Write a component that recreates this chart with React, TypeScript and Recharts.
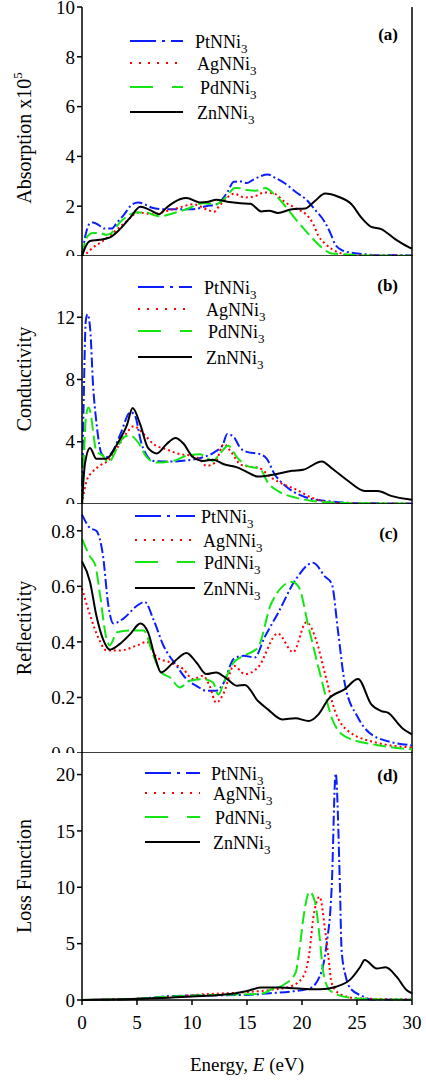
import { LineChart, Line, XAxis, YAxis, ReferenceLine } from 'recharts';

type Pt = [number, number];

const FONT = '"Liberation Serif", "Times New Roman", serif';

const energyTicks = [0, 5, 10, 15, 20, 25, 30];
const compounds = ['PtNNi', 'AgNNi', 'PdNNi', 'ZnNNi'];

// (a) absorption x10^5
const absPt: Pt[] = [[0, 0], [0.3, 0.8], [0.7, 1.3], [1.0, 1.35], [1.5, 1.25], [2.0, 1.1], [2.7, 1.1], [3.2, 1.35], [3.8, 1.65], [4.5, 2.05], [5.1, 2.15], [5.6, 2.1], [6.3, 1.95], [7.4, 1.88], [8.9, 1.88], [10.1, 1.88], [11.3, 2.0], [12.4, 2.1], [12.8, 2.3], [13.2, 2.55], [13.8, 2.98], [14.3, 3.0], [15.0, 2.93], [15.5, 3.05], [16.2, 3.2], [16.9, 3.27], [17.5, 3.15], [18.5, 2.9], [19.5, 2.55], [20.3, 2.3], [21.2, 1.85], [22.1, 1.34], [22.6, 0.9], [23.0, 0.48], [23.6, 0.24], [24.5, 0.13], [25.5, 0.08], [27, 0.03], [28, 0.04], [29, 0.03], [30, 0.02]];
const absAg: Pt[] = [[0, 0], [0.4, 0.1], [1.0, 0.34], [1.9, 0.6], [2.85, 0.94], [4.1, 1.41], [5.1, 1.75], [6.5, 1.68], [7.7, 1.81], [8.9, 1.95], [10.1, 2.08], [11.3, 1.88], [12.0, 1.78], [12.5, 2.02], [13.2, 2.35], [13.8, 2.5], [14.8, 2.35], [15.7, 2.4], [16.6, 2.55], [17.5, 2.5], [18.5, 2.15], [19.5, 1.9], [20.3, 1.7], [21.0, 1.3], [21.5, 0.8], [22.1, 0.5], [22.7, 0.28], [23.6, 0.1], [24.5, 0.04], [26, 0.02], [28, 0.02], [30, 0.01]];
const absPd: Pt[] = [[0, 0], [0.3, 0.6], [0.7, 0.88], [1.0, 0.92], [1.6, 0.92], [2.2, 0.85], [2.6, 0.9], [3.45, 1.35], [4.2, 1.62], [4.8, 1.75], [5.9, 1.75], [6.5, 1.65], [7.1, 1.59], [8.0, 1.68], [9.5, 1.88], [11.0, 2.12], [12.2, 2.08], [12.7, 2.2], [13.2, 2.42], [13.9, 2.73], [14.4, 2.72], [15.0, 2.65], [15.8, 2.62], [16.7, 2.73], [17.3, 2.55], [18.2, 2.15], [19.4, 1.49], [20.6, 0.88], [21.8, 0.34], [22.7, 0.1], [24.5, 0.05], [26, 0.02], [30, 0.01]];
const absZn: Pt[] = [[0, 0], [0.3, 0.35], [0.73, 0.6], [1.6, 0.65], [2.55, 0.75], [3.45, 1.08], [4.4, 1.55], [5.3, 1.98], [6.2, 1.84], [7.0, 1.68], [7.7, 1.95], [8.9, 2.28], [9.5, 2.33], [10.7, 2.15], [11.5, 2.18], [12.2, 2.26], [13.2, 2.18], [14.4, 2.12], [15.3, 2.1], [16.3, 1.79], [17.0, 1.82], [17.8, 1.73], [19.1, 1.88], [20.3, 1.91], [21.2, 2.22], [22.1, 2.51], [23.3, 2.38], [24.5, 2.08], [25.4, 1.54], [26.3, 1.17], [27.2, 1.08], [28.5, 0.67], [29.7, 0.36], [30, 0.3]];

// (b) conductivity
const condPt: Pt[] = [[0, 0], [0.15, 6.5], [0.35, 11.8], [0.5, 12.2], [0.75, 11.2], [1.0, 7.7], [1.3, 5.3], [1.8, 3.2], [2.2, 3.0], [2.8, 3.4], [3.5, 4.5], [4.4, 5.9], [4.8, 5.7], [5.4, 3.9], [6.0, 3.0], [6.5, 2.77], [8.0, 2.73], [9.5, 2.8], [11.0, 3.0], [12.2, 3.4], [12.8, 3.8], [13.2, 4.5], [13.8, 4.3], [14.4, 3.6], [15.0, 3.35], [16.2, 3.2], [16.8, 2.9], [17.5, 1.93], [18.5, 1.16], [20.0, 0.52], [21.0, 0.3], [22.1, 0.2], [23.9, 0.09], [26, 0.05], [30, 0.03]];
const condAg: Pt[] = [[0, 0], [0.42, 1.5], [1.0, 2.1], [1.6, 2.45], [2.55, 2.9], [3.2, 3.6], [4.1, 4.6], [4.7, 5.0], [5.6, 4.5], [6.5, 3.85], [7.7, 3.5], [8.9, 3.2], [10.1, 3.1], [10.8, 2.8], [11.3, 2.45], [12.1, 2.66], [12.9, 3.85], [13.5, 3.4], [14.4, 2.55], [15.2, 2.4], [16.0, 2.34], [17.2, 1.7], [18.2, 1.3], [19.4, 0.95], [20.9, 0.4], [22.1, 0.15], [23.9, 0.05], [30, 0.02]];
const condPd: Pt[] = [[0, 0], [0.12, 2.1], [0.35, 5.5], [0.58, 6.2], [0.8, 5.8], [1.0, 4.7], [1.3, 3.4], [1.9, 3.1], [2.4, 2.66], [3.2, 3.6], [3.8, 4.3], [4.4, 4.4], [5.1, 3.96], [5.9, 3.0], [6.8, 2.66], [8.3, 2.77], [9.5, 3.1], [10.7, 3.2], [11.9, 2.77], [12.5, 3.2], [13.3, 3.74], [14.1, 3.0], [15.0, 2.45], [16.2, 2.24], [16.9, 1.37], [17.8, 0.84], [19.4, 0.41], [20.9, 0.2], [22.7, 0.1], [25, 0.05], [30, 0.03]];
const condZn: Pt[] = [[0, 0], [0.27, 2.6], [0.73, 3.6], [1.3, 2.9], [2.2, 2.9], [3.2, 3.86], [4.1, 5.1], [4.6, 6.17], [5.3, 5.1], [6.0, 3.6], [6.8, 3.25], [7.7, 3.86], [8.5, 4.24], [9.2, 3.9], [10.1, 3.0], [11.0, 2.77], [11.9, 2.85], [12.9, 2.55], [14.1, 2.35], [14.8, 2.13], [16.0, 1.76], [17.5, 1.9], [19.1, 2.13], [20.1, 2.2], [21.8, 2.73], [22.7, 2.3], [24.2, 1.48], [25.7, 0.84], [26.9, 0.84], [28.1, 0.52], [29.7, 0.3], [30, 0.28]];

// (c) reflectivity
const refPt: Pt[] = [[0, 0.858], [0.73, 0.81], [1.3, 0.8], [1.9, 0.713], [2.4, 0.53], [2.85, 0.466], [3.76, 0.484], [5.0, 0.53], [5.7, 0.544], [6.5, 0.48], [7.4, 0.387], [8.6, 0.314], [9.5, 0.266], [10.4, 0.242], [11.3, 0.224], [12.2, 0.224], [12.9, 0.254], [13.8, 0.339], [14.7, 0.35], [15.7, 0.344], [16.6, 0.417], [17.8, 0.502], [19.4, 0.623], [21.0, 0.685], [22.1, 0.635], [22.7, 0.61], [23.3, 0.43], [23.9, 0.248], [25.1, 0.127], [26.9, 0.054], [30, 0.028]];
const refAg: Pt[] = [[0, 0.593], [0.73, 0.496], [1.6, 0.405], [2.2, 0.369], [3.45, 0.369], [5.0, 0.387], [5.9, 0.4], [6.8, 0.344], [8.0, 0.326], [9.2, 0.302], [10.1, 0.266], [11.0, 0.278], [11.6, 0.242], [12.2, 0.181], [12.9, 0.217], [13.8, 0.314], [14.8, 0.284], [16.0, 0.308], [17.8, 0.43], [19.2, 0.363], [20.4, 0.471], [21.3, 0.405], [22.1, 0.284], [23.0, 0.151], [24.2, 0.079], [26.9, 0.036], [30, 0.02]];
const refPd: Pt[] = [[0, 0.77], [0.73, 0.707], [1.2, 0.677], [1.6, 0.58], [2.2, 0.417], [2.5, 0.387], [3.2, 0.435], [4.4, 0.441], [5.6, 0.441], [6.5, 0.35], [7.2, 0.29], [8.0, 0.272], [8.9, 0.236], [9.8, 0.26], [11.0, 0.266], [11.9, 0.254], [12.4, 0.21], [12.9, 0.254], [13.8, 0.326], [14.7, 0.35], [16.0, 0.38], [17.2, 0.538], [19.1, 0.616], [19.7, 0.598], [20.6, 0.453], [21.8, 0.26], [22.7, 0.127], [23.9, 0.06], [26.9, 0.028], [30, 0.013]];
const refZn: Pt[] = [[0, 0.689], [0.73, 0.616], [1.3, 0.496], [1.9, 0.411], [2.55, 0.372], [3.45, 0.393], [4.4, 0.429], [5.3, 0.466], [6.0, 0.435], [6.6, 0.35], [7.2, 0.29], [8.3, 0.326], [9.5, 0.36], [10.4, 0.326], [11.3, 0.284], [12.2, 0.29], [13.2, 0.266], [14.1, 0.242], [14.8, 0.245], [16.0, 0.187], [16.9, 0.157], [18.2, 0.121], [19.4, 0.125], [20.6, 0.115], [21.5, 0.139], [22.4, 0.194], [23.9, 0.23], [25.1, 0.266], [26.3, 0.175], [27.2, 0.151], [27.8, 0.145], [29.1, 0.09], [30, 0.067]];

// (d) loss function
const lossPt: Pt[] = [[0, 0], [5, 0.1], [8, 0.35], [10, 0.4], [15, 0.45], [17.1, 0.6], [18.9, 0.74], [20.7, 1.03], [21.6, 2.07], [22.2, 4.7], [22.7, 10], [23.06, 20.1], [23.45, 10], [23.6, 4.4], [24.0, 2.0], [24.4, 1.03], [25.6, 0.3], [26.2, 0.05], [30, 0.02]];
const lossAg: Pt[] = [[0, 0], [5, 0.1], [7, 0.2], [11, 0.5], [15, 0.7], [17.1, 0.89], [18.9, 1.18], [20.1, 2.07], [20.7, 4.4], [21.0, 7.1], [21.6, 9.16], [22.1, 6.2], [22.4, 3.84], [22.7, 1.48], [23.5, 0.5], [25, 0.15], [30, 0.05]];
const lossPd: Pt[] = [[0, 0], [5, 0.1], [7, 0.25], [8, 0.3], [12, 0.45], [15, 0.5], [16.5, 0.6], [17.1, 0.89], [18.3, 1.33], [19.4, 2.37], [19.8, 4.7], [20.1, 7.1], [20.7, 9.6], [21.2, 8.6], [21.6, 5.6], [21.9, 2.66], [22.5, 0.89], [23.8, 0.3], [25.6, 0.1], [30, 0.03]];
const lossZn: Pt[] = [[0, 0], [5, 0.1], [10, 0.3], [14, 0.6], [15, 0.8], [16.3, 1.1], [18, 1.1], [20, 1.0], [21.6, 0.95], [23.1, 1.18], [24.4, 1.83], [25.3, 2.95], [25.7, 3.55], [26.8, 2.8], [27.6, 2.9], [28.6, 2.07], [29.5, 0.89], [30, 0.6]];

const STYLES = [
  { color: '#0a1eff', dash: '10 3 2 3', legendDash: '26 6 3 6' },
  { color: '#ff0000', dash: '2 3', legendDash: '2 7' },
  { color: '#14e614', dash: '13 5', legendDash: '23 19' },
  { color: '#000000', dash: undefined, legendDash: undefined },
];

const toRows = (pts: Pt[]) => pts.map(([x, y]) => ({ x, y }));

interface PanelProps {
  top: number;
  height: number;
  series: Pt[][];
  domain: [number, number];
  ticks: number[];
  fmt?: (v: number) => string;
  last?: boolean;
}

function Panel({ top, height, series, domain, ticks, fmt, last }: PanelProps) {
  const tickStyle = { fontFamily: FONT, fontSize: 19, fill: '#000' };
  return (
    <div style={{ position: 'absolute', left: 0, top }}>
      <LineChart
        width={426}
        height={height}
        margin={{ top: 7, right: 14, bottom: last ? 40 : 0, left: 22 }}
      >
        {last ? (
          <XAxis
            type="number"
            dataKey="x"
            domain={[0, 30]}
            ticks={energyTicks}
            interval={0}
            height={40}
            tickSize={5}
            tickMargin={11}
            tick={tickStyle}
            axisLine={{ stroke: '#000', strokeWidth: 1.5 }}
            tickLine={{ stroke: '#000', strokeWidth: 1.5 }}
          />
        ) : (
          <XAxis
            type="number"
            dataKey="x"
            domain={[0, 30]}
            ticks={energyTicks}
            interval={0}
            height={1}
            mirror
            tick={false}
            tickSize={8}
            axisLine={{ stroke: '#000', strokeWidth: 1.5 }}
            tickLine={{ stroke: '#000', strokeWidth: 1.5 }}
          />
        )}
        <YAxis
          type="number"
          domain={domain}
          ticks={ticks}
          interval={0}
          width={60}
          tickSize={5}
          tickMargin={2}
          tick={tickStyle}
          tickFormatter={fmt}
          axisLine={{ stroke: '#000', strokeWidth: 1.5 }}
          tickLine={{ stroke: '#000', strokeWidth: 1.5 }}
        />
        <ReferenceLine x={30} stroke="#000" strokeWidth={1.5} />
        {series.map((pts, i) => (
          <Line
            key={compounds[i]}
            data={toRows(pts)}
            dataKey="y"
            type="monotone"
            stroke={STYLES[i].color}
            strokeWidth={2}
            strokeDasharray={STYLES[i].dash}
            dot={false}
            activeDot={false}
            isAnimationActive={false}
          />
        ))}
      </LineChart>
    </div>
  );
}

interface LegendSpec {
  lineX: [number, number];
  rows: number[];
  textX: number[];
  tag: string;
  tagY: number;
}

const legends: LegendSpec[] = [
  { lineX: [130, 183], rows: [41, 63, 87, 112], textX: [195, 197, 200, 197], tag: '(a)', tagY: 40 },
  { lineX: [138, 192], rows: [287, 309, 331, 357], textX: [204, 206, 208, 206], tag: '(b)', tagY: 291 },
  { lineX: [135, 195], rows: [516, 540, 562, 588], textX: [201, 203, 204, 203], tag: '(c)', tagY: 539 },
  { lineX: [145, 200], rows: [773, 793, 817, 842], textX: [211, 213, 215, 213], tag: '(d)', tagY: 781 },
];

const yTitles = [
  { text: 'Absorption x10', sup: '5', y: 138 },
  { text: 'Conductivity', y: 379 },
  { text: 'Reflectivity', y: 628 },
  { text: 'Loss Function', y: 876 },
];

function Overlay() {
  return (
    <svg
      width={426}
      height={1080}
      style={{ position: 'absolute', left: 0, top: 0, pointerEvents: 'none' }}
      fontFamily={FONT}
    >
      {legends.map((lg) => (
        <g key={lg.tag}>
          {lg.rows.map((ry, i) => (
            <g key={i}>
              <line
                x1={lg.lineX[0]}
                x2={lg.lineX[1]}
                y1={ry}
                y2={ry}
                stroke={STYLES[i].color}
                strokeWidth={2}
                strokeDasharray={STYLES[i].legendDash}
              />
              <text x={lg.textX[i]} y={ry + 6.5} fontSize={18} fill="#000">
                {compounds[i]}
                <tspan fontSize={13} dy={5}>3</tspan>
              </text>
            </g>
          ))}
          <text x={398} y={lg.tagY} textAnchor="end" fontSize={17} fontWeight="bold" fill="#000">
            {lg.tag}
          </text>
        </g>
      ))}
      {yTitles.map((t) => (
        <text
          key={t.text}
          x={31}
          y={t.y}
          transform={`rotate(-90 31 ${t.y})`}
          textAnchor="middle"
          fontSize={20}
          fill="#000"
        >
          {t.text}
          {t.sup && (
            <tspan fontSize={13} dy={-9}>
              {t.sup}
            </tspan>
          )}
        </text>
      ))}
      <text x={247} y={1071} textAnchor="middle" fontSize={19} fill="#000">
        Energy, <tspan fontStyle="italic">E</tspan> (eV)
      </text>
    </svg>
  );
}

export default function App() {
  return (
    <div style={{ position: 'absolute', left: 0, top: 0, width: 426, height: 1080, background: '#fff' }}>
      <Panel top={0} height={256} series={[absPt, absAg, absPd, absZn]} domain={[0, 10]} ticks={[0, 2, 4, 6, 8, 10]} />
      <Panel top={248} height={256} series={[condPt, condAg, condPd, condZn]} domain={[0, 16]} ticks={[0, 4, 8, 12]} />
      <Panel
        top={496}
        height={257}
        series={[refPt, refAg, refPd, refZn]}
        domain={[0, 0.9]}
        ticks={[0, 0.2, 0.4, 0.6, 0.8]}
        fmt={(v) => v.toFixed(1)}
      />
      <Panel top={745} height={335} series={[lossPt, lossAg, lossPd, lossZn]} domain={[0, 22]} ticks={[0, 5, 10, 15, 20]} last />
      <Overlay />
    </div>
  );
}
